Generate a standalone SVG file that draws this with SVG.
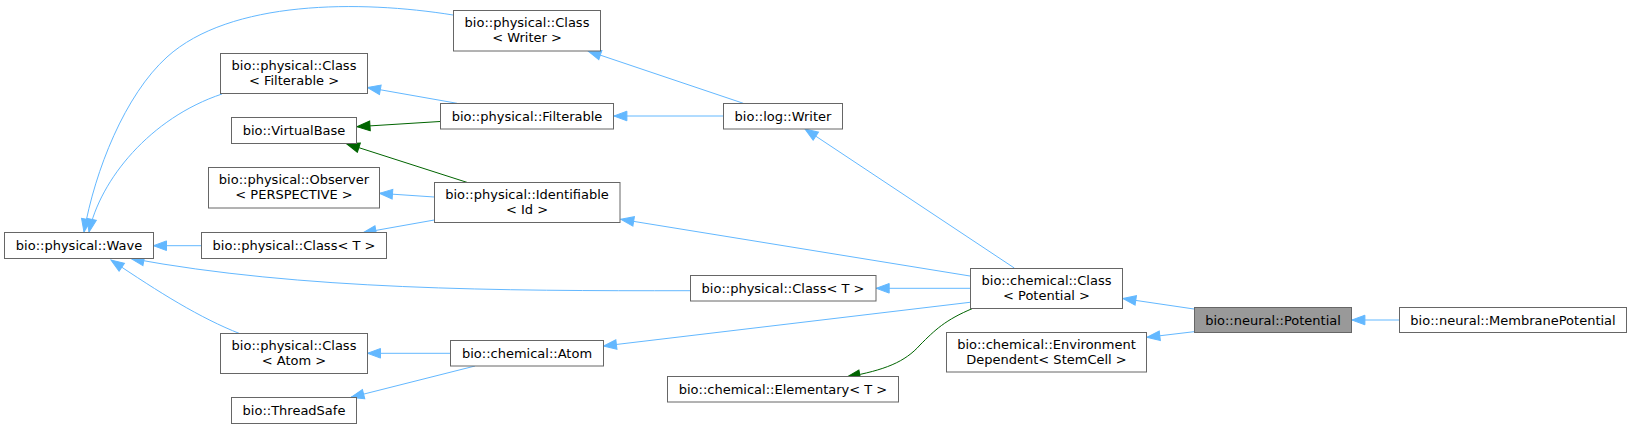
<svg xmlns="http://www.w3.org/2000/svg" width="1632" height="429" viewBox="0 0 1632 429">
<style>
.n rect{fill:#ffffff;stroke:#666666;stroke-width:1}
.n.h rect{fill:#999999}
.n text{font-family:"DejaVu Sans","Liberation Sans",sans-serif;font-size:13px;fill:#000000;text-anchor:middle}
.e{fill:none;stroke-width:1}
.b{stroke:#63b8ff;marker-end:url(#ab)}
.g{stroke:#006400;marker-end:url(#ag)}
</style>
<defs>
<marker id="ab" markerUnits="userSpaceOnUse" markerWidth="16" markerHeight="12" refX="13" refY="5" orient="auto" overflow="visible">
<path d="M0,0.2 L13,5 L0,9.8 z" fill="#63b8ff" stroke="#63b8ff" stroke-width="1"/>
</marker>
<marker id="ag" markerUnits="userSpaceOnUse" markerWidth="16" markerHeight="12" refX="13" refY="5" orient="auto" overflow="visible">
<path d="M0,0.2 L13,5 L0,9.8 z" fill="#006400" stroke="#006400" stroke-width="1"/>
</marker>
</defs>
<rect x="0" y="0" width="1632" height="429" fill="#ffffff"/>
<g id="edges">
<path class="e b" d="M453,15 C360,0 230,0 167,57 C125,95 95,170 84,232"/>
<path class="e b" d="M222,94 C150,118 100,180 89,232"/>
<path class="e b" d="M457,103.3 L367.5,87.5"/>
<path class="e g" d="M440,121.5 L357,126.7"/>
<path class="e g" d="M468,182.7 L346.5,143.7"/>
<path class="e b" d="M434.3,197 L379.5,193.3"/>
<path class="e b" d="M201,245.7 L153.5,245.7"/>
<path class="e b" d="M434.3,220 L363,232.7"/>
<path class="e b" d="M690.3,290.7 C500,291 300,290 131,258.5"/>
<path class="e b" d="M240,333.7 C200,318 160,293 111,260"/>
<path class="e b" d="M450.7,353.3 L367.5,353.3"/>
<path class="e b" d="M475,366 L351,397.3"/>
<path class="e b" d="M743.3,103.3 L588,51"/>
<path class="e b" d="M723.3,116 L613.9,116"/>
<path class="e b" d="M1014.3,268 L805,129"/>
<path class="e b" d="M970,276 L620.8,219.3"/>
<path class="e b" d="M970,288.3 L876.2,288.3"/>
<path class="e b" d="M970,302.3 L603.5,346"/>
<path class="e g" d="M973,308.3 C945,320 935,330 920,345 C905,362 885,370 847,377"/>
<path class="e b" d="M1194,309 L1122.9,298.5"/>
<path class="e b" d="M1194,331.7 L1146.9,337.3"/>
<path class="e b" d="M1399.3,320 L1351.9,320"/>
</g>
<g id="n_classWriter" class="n"><rect x="453.5" y="10.5" width="147" height="40.5"/><text x="527" y="26.5">bio::physical::Class</text><text x="527" y="41.5">&lt; Writer &gt;</text></g>
<g id="n_classFilterable" class="n"><rect x="220.5" y="53.5" width="147" height="40"/><text x="294" y="69.5">bio::physical::Class</text><text x="294" y="84.5">&lt; Filterable &gt;</text></g>
<g id="n_virtualBase" class="n"><rect x="231.5" y="117.5" width="125" height="26"/><text x="294" y="134.5">bio::VirtualBase</text></g>
<g id="n_observer" class="n"><rect x="208.5" y="167.5" width="171" height="40.5"/><text x="294" y="183.5">bio::physical::Observer</text><text x="294" y="198.5">&lt; PERSPECTIVE &gt;</text></g>
<g id="n_wave" class="n"><rect x="4.5" y="232.5" width="149" height="26"/><text x="79" y="249.5">bio::physical::Wave</text></g>
<g id="n_classT1" class="n"><rect x="201.5" y="232.5" width="185" height="26"/><text x="294" y="249.5">bio::physical::Class&lt; T &gt;</text></g>
<g id="n_classAtom" class="n"><rect x="220.5" y="333.5" width="147" height="40"/><text x="294" y="349.5">bio::physical::Class</text><text x="294" y="364.5">&lt; Atom &gt;</text></g>
<g id="n_threadSafe" class="n"><rect x="231.5" y="397.5" width="125" height="26"/><text x="294" y="414.5">bio::ThreadSafe</text></g>
<g id="n_filterable" class="n"><rect x="440.5" y="103.5" width="173" height="25.5"/><text x="527" y="120.5">bio::physical::Filterable</text></g>
<g id="n_identifiable" class="n"><rect x="434.5" y="182.5" width="185.5" height="40"/><text x="527" y="198.5">bio::physical::Identifiable</text><text x="527" y="213.5">&lt; Id &gt;</text></g>
<g id="n_atom" class="n"><rect x="450.5" y="340.5" width="153" height="25.5"/><text x="527" y="357.5">bio::chemical::Atom</text></g>
<g id="n_writer" class="n"><rect x="723.5" y="103.5" width="119" height="25.5"/><text x="783" y="120.5">bio::log::Writer</text></g>
<g id="n_classT2" class="n"><rect x="690.5" y="275.5" width="185.5" height="25.5"/><text x="783" y="292.5">bio::physical::Class&lt; T &gt;</text></g>
<g id="n_elementary" class="n"><rect x="667.5" y="376.5" width="231" height="25.5"/><text x="783" y="393.5">bio::chemical::Elementary&lt; T &gt;</text></g>
<g id="n_classPotential" class="n"><rect x="970.5" y="268.5" width="152" height="40"/><text x="1046.5" y="284.5">bio::chemical::Class</text><text x="1046.5" y="299.5">&lt; Potential &gt;</text></g>
<g id="n_envDep" class="n"><rect x="946.5" y="332.5" width="200" height="39.5"/><text x="1046.5" y="348.5">bio::chemical::Environment</text><text x="1046.5" y="363.5">Dependent&lt; StemCell &gt;</text></g>
<g id="n_potential" class="n h"><rect x="1194.5" y="307.5" width="157" height="25"/><text x="1273" y="324.5">bio::neural::Potential</text></g>
<g id="n_membranePotential" class="n"><rect x="1399.5" y="307.5" width="227" height="25"/><text x="1513" y="324.5">bio::neural::MembranePotential</text></g>
</svg>
